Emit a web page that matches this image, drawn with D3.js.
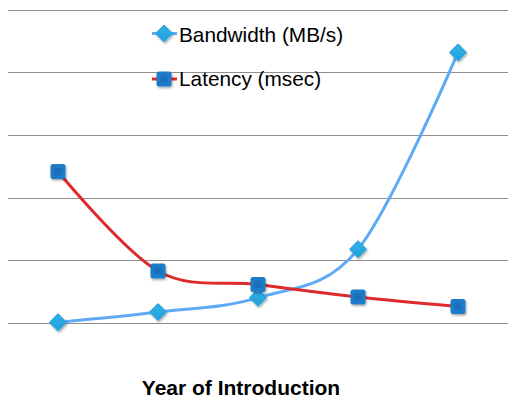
<!DOCTYPE html>
<html>
<head>
<meta charset="utf-8">
<script src="https://cdn.jsdelivr.net/npm/d3@7"></script>
<style>
  html, body { margin: 0; padding: 0; background: #fff; }
  svg { display: block; }
</style>
</head>
<body>
<svg id="chart" width="508" height="398"></svg>
<script>
// Five introduction points along the x axis (no tick labels are shown)
const categories = [0, 1, 2, 3, 4];
// Relative values on a 0–100 scale
const bandwidth = [0.2, 3.5, 8.1, 23.5, 86.3];
const latency = [48.3, 16.6, 12.3, 8.3, 5.3];
const gridTicks = [0, 20, 40, 60, 80, 100];
const seriesNames = ["Bandwidth (MB/s)", "Latency (msec)"];
const xTitle = "Year of Introduction";

const svg = d3.select("#chart");
const W = 508;

const x = d3.scalePoint().domain(categories).range([8, 508]).padding(0.5);
const y = d3.scaleLinear().domain([0, 100]).range([323, 9.5]);

const defs = svg.append("defs");
const shadow = defs.append("filter").attr("id", "shadow")
  .attr("x", "-50%").attr("y", "-50%").attr("width", "200%").attr("height", "200%");
shadow.append("feDropShadow").attr("dx", 1).attr("dy", 1.5)
  .attr("stdDeviation", 1.2).attr("flood-color", "#000").attr("flood-opacity", 0.35);

const gDia = defs.append("linearGradient").attr("id", "gDia")
  .attr("x1", 0).attr("y1", 0).attr("x2", 0).attr("y2", 1);
gDia.append("stop").attr("offset", "0%").attr("stop-color", "#34b3ea");
gDia.append("stop").attr("offset", "100%").attr("stop-color", "#1e9fdb");

// Horizontal gridlines
const yAxis = d3.axisLeft(y).tickValues(gridTicks).tickSize(-(W - 8)).tickFormat("");
const ga = svg.append("g").attr("transform", "translate(8,0)").call(yAxis);
ga.select(".domain").remove();
ga.selectAll(".tick line").attr("stroke", "#8f8f8f").attr("stroke-width", 1)
  .attr("shape-rendering", "crispEdges");

const line = d3.line()
  .x((d, i) => x(categories[i]))
  .y(d => y(d))
  .curve(d3.curveCardinal.tension(0));

function diamond(g, cx, cy) {
  const r = 8;
  g.append("path")
    .attr("d", `M${cx},${cy - r}L${cx + r},${cy}L${cx},${cy + r}L${cx - r},${cy}Z`)
    .attr("fill", "url(#gDia)")
    .attr("stroke", "#2aa6de").attr("stroke-width", 1.5).attr("stroke-linejoin", "round")
    .attr("filter", "url(#shadow)");
}
function square(g, cx, cy) {
  const s = 15;
  g.append("rect")
    .attr("x", cx - s / 2).attr("y", cy - s / 2).attr("width", s).attr("height", s)
    .attr("rx", 2.5).attr("fill", "#1f7cc8")
    .attr("filter", "url(#shadow)");
  g.append("rect")
    .attr("x", cx - 3.5).attr("y", cy - 3.5).attr("width", 7).attr("height", 7)
    .attr("fill", "#1a6ab6").attr("opacity", 0.8);
}

// Bandwidth series
svg.append("path").datum(bandwidth).attr("d", line)
  .attr("fill", "none").attr("stroke", "#5eaaf7").attr("stroke-width", 3);
const bm = svg.append("g");
bandwidth.forEach((v, i) => diamond(bm, x(categories[i]), y(v)));

// Latency series
svg.append("path").datum(latency).attr("d", line)
  .attr("fill", "none").attr("stroke", "#de2a2b").attr("stroke-width", 3);
const lm = svg.append("g");
latency.forEach((v, i) => square(lm, x(categories[i]), y(v)));

// Legend
const leg = svg.append("g");
leg.append("line").attr("x1", 152).attr("x2", 177).attr("y1", 33.5).attr("y2", 33.5)
  .attr("stroke", "#5eaaf7").attr("stroke-width", 3);
diamond(leg, 164, 33.5);
leg.append("text").attr("x", 179).attr("y", 41.5).text(seriesNames[0])
  .attr("font-family", "Liberation Sans, Arial, sans-serif").attr("font-size", 20.8).attr("fill", "#000");
leg.append("line").attr("x1", 152).attr("x2", 177).attr("y1", 79).attr("y2", 79)
  .attr("stroke", "#de2a2b").attr("stroke-width", 3);
square(leg, 164, 79);
leg.append("text").attr("x", 179).attr("y", 86).text(seriesNames[1])
  .attr("font-family", "Liberation Sans, Arial, sans-serif").attr("font-size", 20.8).attr("fill", "#000");

// Axis title
svg.append("text").attr("x", 241).attr("y", 395).attr("text-anchor", "middle")
  .attr("font-family", "Liberation Sans, Arial, sans-serif").attr("font-weight", "bold")
  .attr("font-size", 21).attr("fill", "#000").text(xTitle);
</script>
</body>
</html>
